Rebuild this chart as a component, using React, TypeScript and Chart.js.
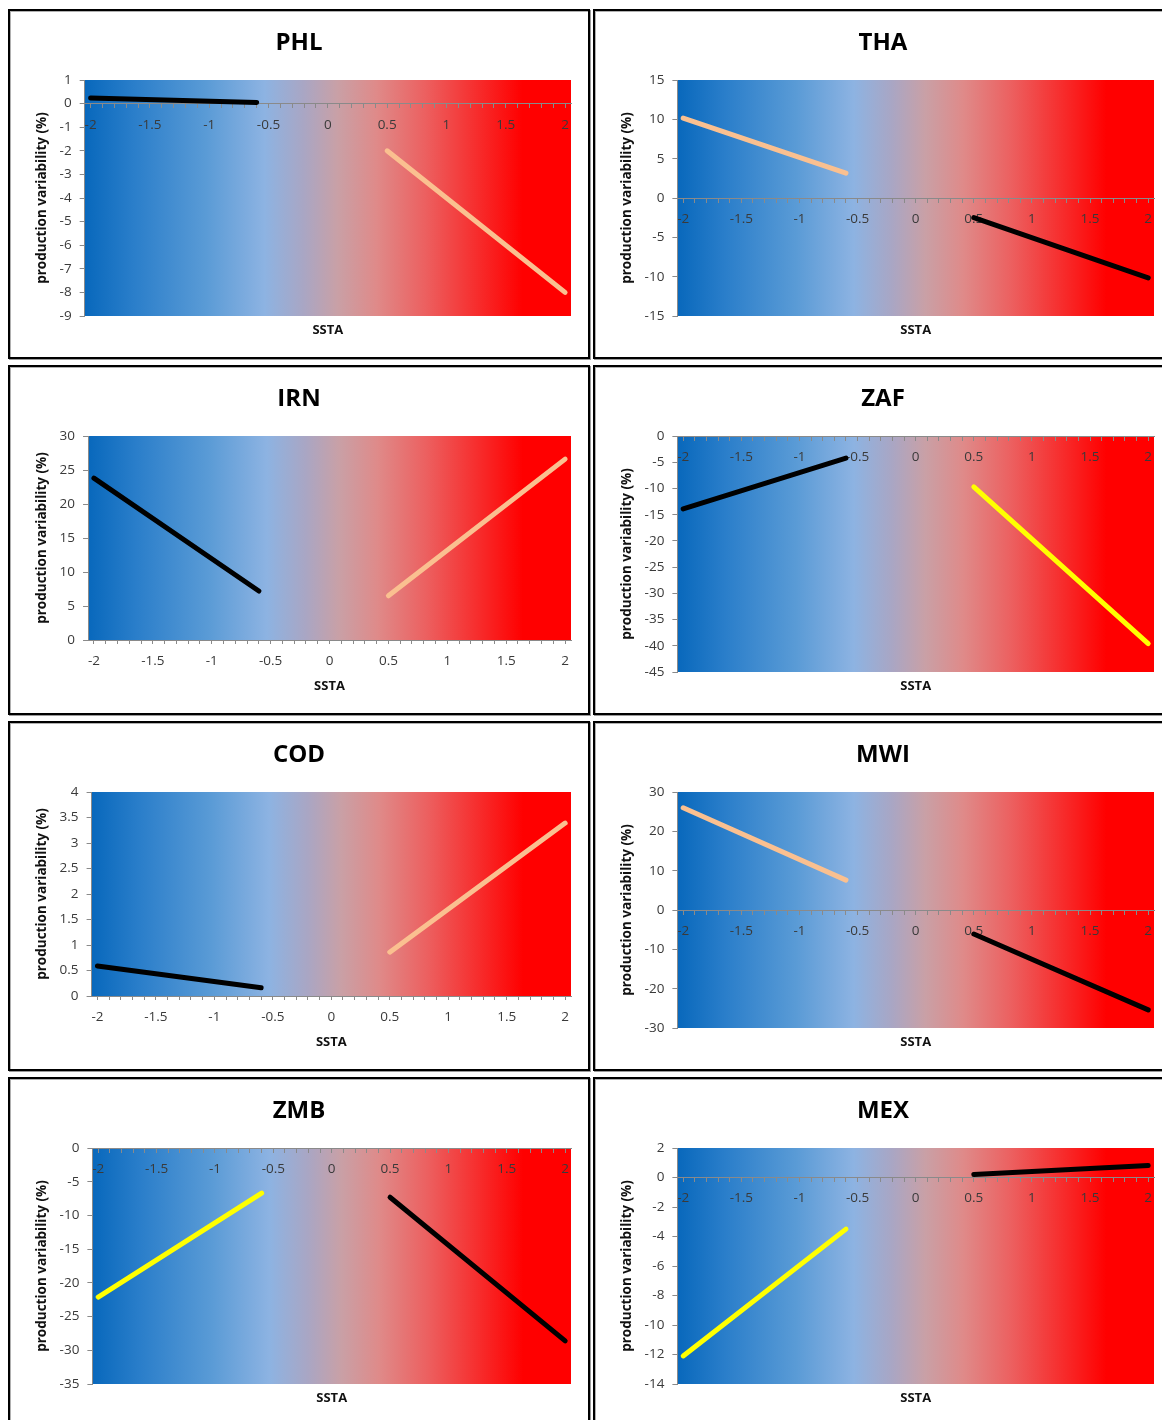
import { useEffect, useRef } from 'react';
import { Chart, registerables } from 'chart.js';

Chart.register(...registerables);

// ---------- data ----------
const COUNTRIES = ['PHL', 'THA', 'IRN', 'ZAF', 'COD', 'MWI', 'ZMB', 'MEX'];
const SSTA_COOL = [-2, -0.6];
const SSTA_WARM = [0.5, 2];
const X_TICK_LABELS = [-2, -1.5, -1, -0.5, 0, 0.5, 1, 1.5, 2];

const PHL_COOL = [0.24, 0.05];
const PHL_WARM = [-2.0, -8.0];
const THA_COOL = [10.15, 3.15];
const THA_WARM = [-2.5, -10.15];
const IRN_COOL = [23.8, 7.2];
const IRN_WARM = [6.5, 26.6];
const ZAF_COOL = [-13.9, -4.2];
const ZAF_WARM = [-9.7, -39.6];
const COD_COOL = [0.59, 0.16];
const COD_WARM = [0.86, 3.39];
const MWI_COOL = [26.0, 7.6];
const MWI_WARM = [-6.1, -25.4];
const ZMB_COOL = [-22.1, -6.7];
const ZMB_WARM = [-7.3, -28.6];
const MEX_COOL = [-12.1, -3.5];
const MEX_WARM = [0.2, 0.82];

const COOL_VALUES = [PHL_COOL, THA_COOL, IRN_COOL, ZAF_COOL, COD_COOL, MWI_COOL, ZMB_COOL, MEX_COOL];
const WARM_VALUES = [PHL_WARM, THA_WARM, IRN_WARM, ZAF_WARM, COD_WARM, MWI_WARM, ZMB_WARM, MEX_WARM];

const COOL_SERIES = ['black', 'peach', 'black', 'black', 'black', 'peach', 'yellow', 'yellow'];
const WARM_SERIES = ['peach', 'black', 'peach', 'yellow', 'peach', 'black', 'black', 'black'];

const Y_MIN = [-9, -15, 0, -45, 0, -30, -35, -14];
const Y_MAX = [1, 15, 30, 0, 4, 30, 0, 2];
const Y_STEP = [1, 5, 5, 5, 0.5, 10, 5, 2];

// ---------- styles ----------
const SERIES_COLOR: Record<string, string> = {
  black: '#000000',
  peach: '#FAC090',
  yellow: '#FFFF00',
};

const FONT = "'Open Sans', 'DejaVu Sans', sans-serif";
const TICK_COLOR = '#3a3a3a';
const AXIS_COLOR = '#8a8a8a';

const GRADIENT_STOPS: [number, string][] = [
  [0.0, '#0868BC'],
  [0.1, '#2A7ECA'],
  [0.25, '#5A9BD6'],
  [0.37, '#8DB3E2'],
  [0.45, '#A9A6C4'],
  [0.52, '#C9A0A6'],
  [0.6, '#DF8A89'],
  [0.7, '#EC6060'],
  [0.8, '#F63030'],
  [0.9, '#FF0000'],
  [1.0, '#FF0000'],
];

const PANEL_LEFT = [8, 593];
const PANEL_WIDTH = [582, 580];
const PANEL_TOP = [9, 365, 721, 1077];
const PANEL_HEIGHT = 350;

const gradientPlugin = {
  id: 'sstaGradient',
  beforeDraw(chart: any) {
    const { ctx, chartArea } = chart;
    if (!chartArea) return;
    const { left, top, right, bottom } = chartArea;
    const g = ctx.createLinearGradient(left, 0, right, 0);
    GRADIENT_STOPS.forEach(([o, c]) => g.addColorStop(o, c));
    ctx.save();
    ctx.fillStyle = g;
    ctx.fillRect(left, top, right - left, bottom - top);
    ctx.restore();
  },
};

function fmt(v: number) {
  const r = Math.round(v * 100) / 100;
  return String(r);
}

function Panel({ idx }: { idx: number }) {
  const ref = useRef<HTMLCanvasElement | null>(null);
  const col = idx % 2;
  const row = Math.floor(idx / 2);
  const w = PANEL_WIDTH[col] - 4;
  const h = PANEL_HEIGHT - 4;

  useEffect(() => {
    if (!ref.current) return;
    const bottomAxis = Y_MIN[idx] === 0;
    const cool = COOL_VALUES[idx];
    const warm = WARM_VALUES[idx];
    const chart = new Chart(ref.current, {
      type: 'line',
      data: {
        datasets: [
          {
            label: 'cool',
            data: SSTA_COOL.map((x, i) => ({ x, y: cool[i] })),
            borderColor: SERIES_COLOR[COOL_SERIES[idx]],
            borderWidth: 5,
            pointRadius: 0,
            borderCapStyle: 'round',
            tension: 0,
          },
          {
            label: 'warm',
            data: SSTA_WARM.map((x, i) => ({ x, y: warm[i] })),
            borderColor: SERIES_COLOR[WARM_SERIES[idx]],
            borderWidth: 5,
            pointRadius: 0,
            borderCapStyle: 'round',
            tension: 0,
          },
        ],
      },
      options: {
        animation: false,
        responsive: false,
        devicePixelRatio: 1,
        layout: { padding: 0 },
        plugins: {
          legend: { display: false },
          tooltip: { enabled: false },
          title: {
            display: true,
            text: COUNTRIES[idx],
            color: '#000',
            font: { family: FONT, size: 24, weight: 'bold' },
            padding: { top: 17.6, bottom: 22.6 },
          },
          subtitle: {
            display: true,
            text: 'SSTA',
            position: 'bottom',
            fullSize: false,
            color: '#111',
            font: { family: FONT, size: 13, weight: 'bold' },
            padding: { top: 6.2, bottom: 19.2 },
          },
        },
        scales: {
          x: {
            type: 'linear',
            min: -2.05,
            max: 2.05,
            position: bottomAxis ? 'bottom' : { y: 0 },
            afterBuildTicks: (scale: any) => {
              const t: { value: number }[] = [];
              for (let k = -20; k <= 20; k++) t.push({ value: k / 10 });
              scale.ticks = t;
            },
            afterFit: (scale: any) => {
              scale.height = bottomAxis ? 32 : 0;
            },
            ticks: {
              autoSkip: false,
              maxRotation: 0,
              minRotation: 0,
              padding: 9,
              color: TICK_COLOR,
              font: { family: FONT, size: 13.5 },
              callback: (v: any) => {
                const n = Number(v);
                const hit = X_TICK_LABELS.find((t) => Math.abs(t - n) < 1e-6);
                return hit === undefined ? '' : fmt(hit);
              },
            },
            grid: {
              display: true,
              drawOnChartArea: false,
              drawTicks: true,
              tickLength: 4,
              color: AXIS_COLOR,
            },
            border: { display: true, color: AXIS_COLOR, width: 1 },
          },
          y: {
            type: 'linear',
            position: 'left',
            min: Y_MIN[idx],
            max: Y_MAX[idx],
            ticks: {
              stepSize: Y_STEP[idx],
              padding: 8,
              color: TICK_COLOR,
              font: { family: FONT, size: 13.5 },
              callback: (v: any) => fmt(Number(v)),
            },
            grid: {
              display: true,
              drawOnChartArea: false,
              drawTicks: true,
              tickLength: 5,
              color: AXIS_COLOR,
            },
            border: { display: true, color: AXIS_COLOR, width: 1 },
            title: {
              display: true,
              text: 'production variability (%)',
              color: '#111',
              font: { family: FONT, size: 13.5, weight: 'bold' },
              padding: { top: 23.9, bottom: 1.5 },
            },
          },
          yPad: {
            type: 'linear',
            position: 'right',
            display: true,
            grid: { display: false },
            border: { display: false },
            ticks: { display: false },
            afterFit: (scale: any) => {
              scale.width = 17;
            },
          },
        },
      } as any,
      plugins: [gradientPlugin],
    } as any);
    return () => chart.destroy();
  }, [idx]);

  return (
    <div
      style={{
        position: 'absolute',
        left: PANEL_LEFT[col],
        top: PANEL_TOP[row],
        width: PANEL_WIDTH[col],
        height: PANEL_HEIGHT,
        boxSizing: 'border-box',
        border: '2px solid #000',
        boxShadow: '1px 1px 0 #9a9a9a, inset 1px 1px 0 #b0b0b0',
        background: '#fff',
      }}
    >
      <canvas ref={ref} width={w} height={h} style={{ display: 'block', width: w, height: h }} />
    </div>
  );
}

export default function App() {
  return (
    <div
      style={{
        position: 'absolute',
        left: 0,
        top: 0,
        width: 1162,
        height: 1420,
        overflow: 'hidden',
        background: '#fff',
      }}
    >
      {COUNTRIES.map((_, i) => (
        <Panel key={i} idx={i} />
      ))}
    </div>
  );
}
